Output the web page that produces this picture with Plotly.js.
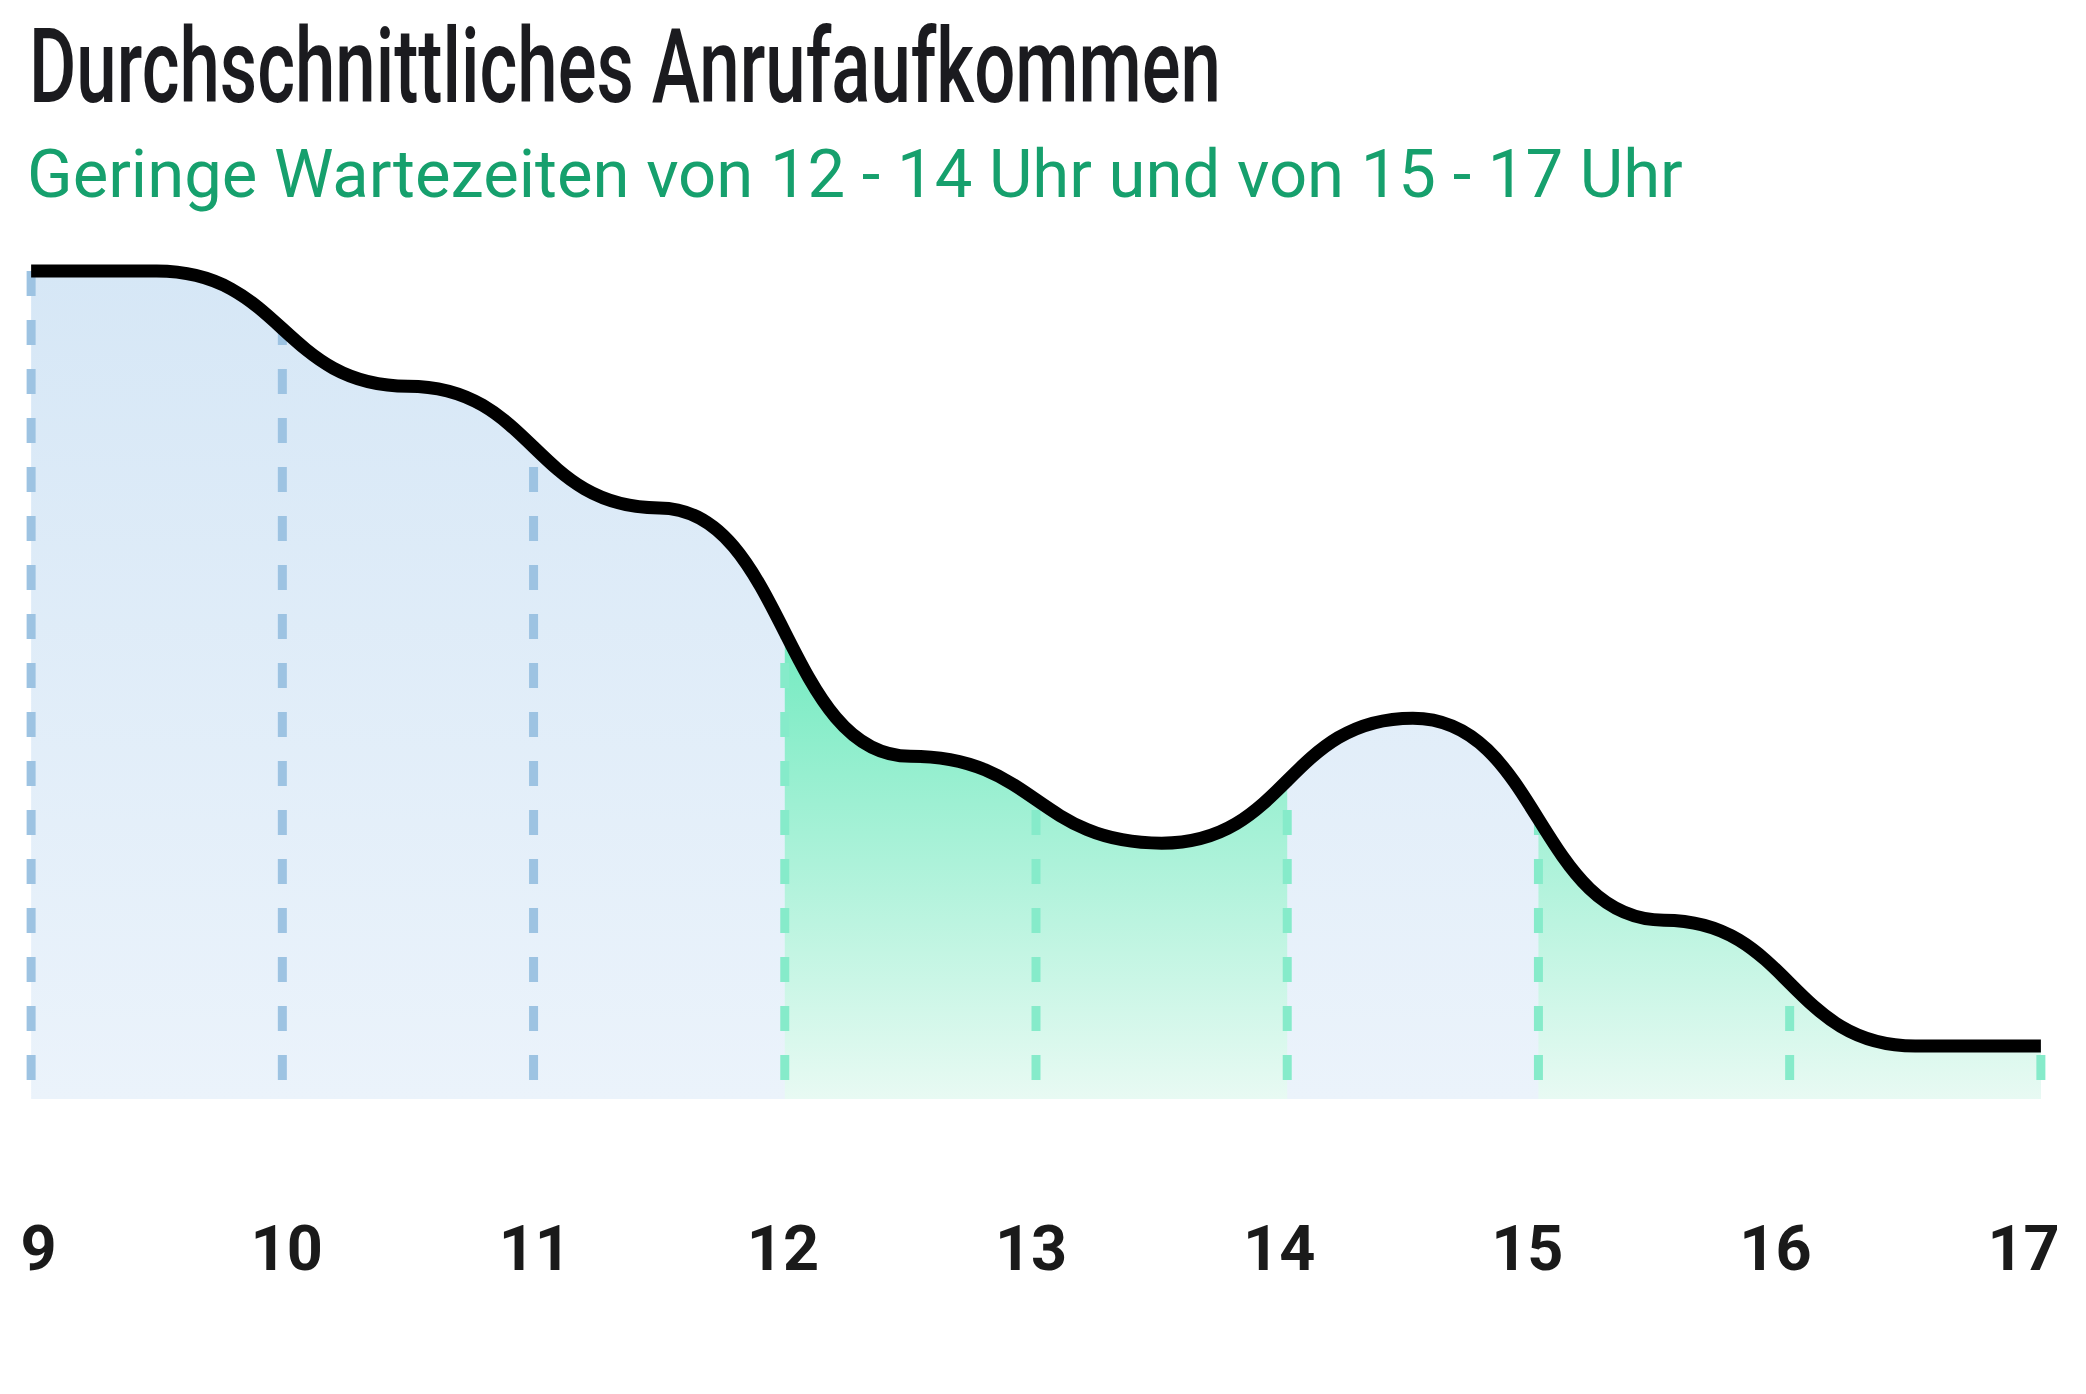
<!DOCTYPE html>
<html>
<head>
<meta charset="utf-8">
<script src="https://cdn.plot.ly/plotly-3.0.1.min.js"></script>
<style>html,body{margin:0;padding:0;background:#fff;}</style>
</head>
<body>
<div id="chart" style="width:2086px;height:1394px;"></div>
<script>
// ---- data ----
const hours = [9, 10, 11, 12, 13, 14, 15, 16, 17];
const hourLabels = ['9', '10', '11', '12', '13', '14', '15', '16', '17'];
const curveX = [9, 9.5, 10.5, 11.5, 12.5, 13.5, 14.5, 15.5, 16.5, 17];
const callVolume = [100, 100, 86.1, 71.4, 41.4, 30.9, 46.0, 21.6, 6.4, 6.4];
const lowWaitStart = [12, 15];
const lowWaitEnd = [14, 17];
const titleText = 'Durchschnittliches Anrufaufkommen';
const subtitleText = 'Geringe Wartezeiten von 12 - 14 Uhr und von 15 - 17 Uhr';

// ---- layout constants ----
const W = 2086, H = 1394;
const mL = 6, mR = 20, mT = 238, mB = 295;
const plotH = H - mT - mB;
const yTop = 104;
const yMax = Math.max(...callVolume);
const xMin = hours[0], xMax = hours[hours.length - 1];
const pxToPaperY = p => (H - mB - p) / plotH;
const titleLeft = 29, titleWidth = 1192;

// bump curve (horizontal tangents at every point) as cubic Bezier path in data coords
let curveSeg = '';
for (let i = 1; i < curveX.length; i++) {
  const xm = (curveX[i - 1] + curveX[i]) / 2;
  curveSeg += ` C${xm},${callVolume[i - 1]} ${xm},${callVolume[i]} ${curveX[i]},${callVolume[i]}`;
}
const n = curveX.length - 1;
const curvePath = `M${curveX[0]},${callVolume[0]}` + curveSeg;
const coverPath = `M${curveX[0] - 0.1},${callVolume[0]} L${curveX[0]},${callVolume[0]}` + curveSeg +
  ` L${curveX[n] + 0.1},${callVolume[n]} L${curveX[n] + 0.1},${yTop + 10} L${curveX[0] - 0.1},${yTop + 10} Z`;

const isLowWait = h => lowWaitStart.some((s, i) => h >= s && h <= lowWaitEnd[i]);

const blueScale = [[0, 'rgb(235,243,251)'], [1, 'rgb(214,231,246)']];
const greenScale = [[0, 'rgb(232,250,243)'], [0.5, 'rgb(128,236,198)'], [1, 'rgb(40,224,160)']];

const traces = [];
traces.push({
  x: [xMin, xMax], y: [yMax, yMax], type: 'scatter', mode: 'lines',
  line: {width: 0, color: 'rgba(0,0,0,0)'}, fill: 'tozeroy',
  fillgradient: {type: 'vertical', colorscale: blueScale, start: 0, stop: yMax},
  hoverinfo: 'skip', showlegend: false
});
lowWaitStart.forEach((s, i) => {
  traces.push({
    x: [s, lowWaitEnd[i]], y: [yMax, yMax], type: 'scatter', mode: 'lines',
    line: {width: 0, color: 'rgba(0,0,0,0)'}, fill: 'tozeroy',
    fillgradient: {type: 'vertical', colorscale: greenScale, start: 0, stop: yMax},
    hoverinfo: 'skip', showlegend: false
  });
});
const bx = [], by = [], gx = [], gy = [];
hours.forEach(h => {
  if (isLowWait(h)) { gx.push(h, h, null); gy.push(yMax, 0, null); }
  else { bx.push(h, h, null); by.push(yMax, 0, null); }
});
traces.push({x: bx, y: by, type: 'scatter', mode: 'lines', connectgaps: false,
  line: {color: '#9dc3e2', width: 9, dash: '25px,24px'}, hoverinfo: 'skip', showlegend: false});
traces.push({x: gx, y: gy, type: 'scatter', mode: 'lines', connectgaps: false,
  line: {color: '#86ebca', width: 9, dash: '25px,24px'}, hoverinfo: 'skip', showlegend: false});
traces.push({x: hours, y: hours.map(() => 0), xaxis: 'x2', type: 'scatter', mode: 'markers',
  marker: {size: 1, opacity: 0}, hoverinfo: 'skip', showlegend: false});

const layout = {
  width: W, height: H, autosize: false,
  margin: {l: mL, r: mR, t: mT, b: mB, pad: 0},
  paper_bgcolor: '#ffffff', plot_bgcolor: 'rgba(0,0,0,0)',
  showlegend: false,
  title: {
    text: titleText, xref: 'container', x: titleLeft / W, xanchor: 'left',
    yref: 'container', y: 1 - 66 / H, yanchor: 'middle',
    font: {family: 'Roboto', size: 103, color: '#1b1b1f', weight: 500}
  },
  xaxis: {range: [8.9, 17.1], showgrid: false, zeroline: false, showline: false,
    showticklabels: false, ticks: '', fixedrange: true},
  xaxis2: {overlaying: 'x', anchor: 'y', side: 'bottom', range: [8.8686, 17.171],
    tickmode: 'array', tickvals: hours, ticktext: hourLabels,
    showgrid: false, zeroline: false, showline: false, ticks: '', ticklabelstandoff: 107,
    tickfont: {family: 'Roboto', size: 63, color: '#1a1a1a', weight: 'bold'}, fixedrange: true},
  yaxis: {range: [0, yTop], showgrid: false, zeroline: false, showline: false,
    showticklabels: false, ticks: '', fixedrange: true},
  shapes: [
    {type: 'path', xref: 'x', yref: 'y', path: coverPath, fillcolor: '#ffffff',
      line: {width: 0}, layer: 'above'},
    {type: 'path', xref: 'x', yref: 'y', path: curvePath, fillcolor: 'rgba(0,0,0,0)',
      line: {color: '#000000', width: 13}, layer: 'above'}
  ],
  annotations: [{
    text: subtitleText, xref: 'paper', yref: 'paper',
    x: (25 - mL) / (W - mL - mR), y: pxToPaperY(174), xanchor: 'left', yanchor: 'middle',
    showarrow: false, font: {family: 'Roboto', size: 67, color: '#16a06d'}
  }]
};

Plotly.newPlot('chart', traces, layout, {displayModeBar: false, staticPlot: true}).then(() => {
  // condense the headline horizontally to the width of the original condensed typeface
  const t = document.querySelector('.gtitle');
  if (t) {
    const w = t.getComputedTextLength();
    const x0 = parseFloat(t.getAttribute('x')) || titleLeft;
    const sx = titleWidth / w;
    t.setAttribute('transform', `translate(${x0},0) scale(${sx},1) translate(${-x0},0)`);
  }
});
</script>
</body>
</html>
